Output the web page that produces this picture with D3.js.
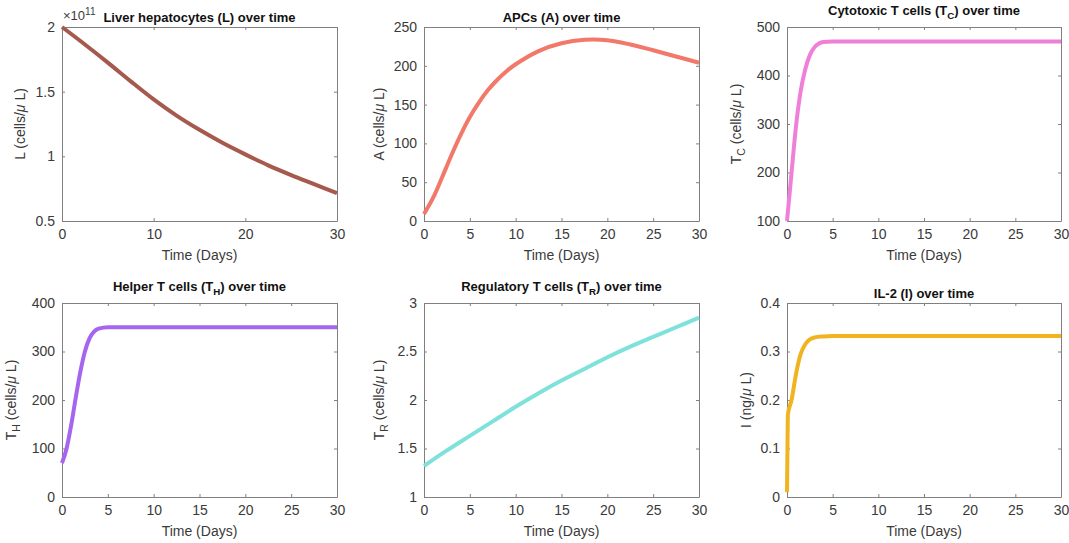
<!DOCTYPE html>
<html>
<head>
<meta charset="utf-8">
<script src="https://cdn.jsdelivr.net/npm/d3@7"></script>
<style>
body { margin: 0; background: #fff; }
text { font-family: "Liberation Sans", Arial, Helvetica, sans-serif; }
</style>
</head>
<body>
<svg id="vis" width="1069" height="543"></svg>
<script>
// values (time in days)
var liverDays = [0, 2.5, 5, 7.5, 10, 12.5, 15, 17.5, 20, 22.5, 25, 27.5, 30];
var liverL = [2.0, 1.865, 1.725, 1.58, 1.44, 1.315, 1.205, 1.105, 1.015, 0.93, 0.855, 0.785, 0.715]; // x1e11

var apcDays = [0, 1, 2, 3, 4, 5, 6, 7, 8, 9, 10, 12.5, 15, 17.5, 20, 22.5, 25, 27.5, 30];
var apcA = [9, 30, 57, 85, 111, 134, 153, 169, 182, 193, 202, 219, 229, 233.5, 233, 227.5, 220, 212, 204];

var tcDays = [0, 0.5, 1, 1.5, 2, 2.5, 3, 3.5, 4, 5, 30];
var tcValues = [100, 200, 298, 368, 413, 442, 458, 466, 469, 470, 470];

var thDays = [0, 0.5, 1, 1.5, 2, 2.5, 3, 3.5, 4, 5, 30];
var thValues = [70, 100, 148, 205, 258, 300, 327, 341, 347, 350, 350];

var trDays = [0, 2.5, 5, 7.5, 10, 12.5, 15, 17.5, 20, 22.5, 25, 27.5, 30];
var trValues = [1.32, 1.48, 1.63, 1.78, 1.93, 2.07, 2.20, 2.32, 2.44, 2.55, 2.65, 2.75, 2.85];

var il2Days = [0, 0.05, 0.1, 0.5, 1, 1.5, 2, 2.5, 3, 4, 5, 30];
var il2Values = [0.01, 0.10, 0.17, 0.20, 0.255, 0.295, 0.315, 0.325, 0.329, 0.331, 0.332, 0.332];

var xTicksWide = [0, 10, 20, 30];
var xTicksFine = [0, 5, 10, 15, 20, 25, 30];
var liverTicks = [0.5, 1, 1.5, 2];
var apcTicks = [0, 50, 100, 150, 200, 250];
var tcTicks = [100, 200, 300, 400, 500];
var thTicks = [0, 100, 200, 300, 400];
var trTicks = [1, 1.5, 2, 2.5, 3];
var il2Ticks = [0, 0.1, 0.2, 0.3, 0.4];

// parts: [text, kind] where kind is "n" normal, "sub" subscript, "mu" greek mu
var panels = [
  {x: 62, y: 27, w: 275, h: 194, days: liverDays, vals: liverL, yDom: [0.5, 2], yTicks: liverTicks, xTicks: xTicksWide,
   color: "#a65a4e", labelOff: 37, exponent: true, curve: d3.curveCatmullRom,
   title: [["Liver hepatocytes (L) over time", "n"]],
   ylab: [["L (cells/", "n"], ["\u03bc", "mu"], [" L)", "n"]]},
  {x: 424, y: 27, w: 275, h: 194, days: apcDays, vals: apcA, yDom: [0, 250], yTicks: apcTicks, xTicks: xTicksFine,
   color: "#f2786a", labelOff: 40, curve: d3.curveCatmullRom,
   title: [["APCs (A) over time", "n"]],
   ylab: [["A (cells/", "n"], ["\u03bc", "mu"], [" L)", "n"]]},
  {x: 787, y: 27, w: 274, h: 194, days: tcDays, vals: tcValues, yDom: [100, 500], yTicks: tcTicks, xTicks: xTicksFine,
   color: "#f07fd8", labelOff: 46, curve: d3.curveMonotoneX,
   title: [["Cytotoxic T cells (T", "n"], ["C", "sub"], [") over time", "n"]],
   ylab: [["T", "n"], ["C", "sub"], [" (cells/", "n"], ["\u03bc", "mu"], [" L)", "n"]]},
  {x: 62, y: 303, w: 275, h: 194, days: thDays, vals: thValues, yDom: [0, 400], yTicks: thTicks, xTicks: xTicksFine,
   color: "#a565ee", labelOff: 46, curve: d3.curveMonotoneX,
   title: [["Helper T cells (T", "n"], ["H", "sub"], [") over time", "n"]],
   ylab: [["T", "n"], ["H", "sub"], [" (cells/", "n"], ["\u03bc", "mu"], [" L)", "n"]]},
  {x: 424, y: 303, w: 275, h: 194, days: trDays, vals: trValues, yDom: [1, 3], yTicks: trTicks, xTicks: xTicksFine,
   color: "#7fe2da", labelOff: 40, curve: d3.curveCatmullRom,
   title: [["Regulatory T cells (T", "n"], ["R", "sub"], [") over time", "n"]],
   ylab: [["T", "n"], ["R", "sub"], [" (cells/", "n"], ["\u03bc", "mu"], [" L)", "n"]]},
  {x: 787, y: 303, w: 274, h: 194, days: il2Days, vals: il2Values, yDom: [0, 0.4], yTicks: il2Ticks, xTicks: xTicksFine,
   color: "#f1b420", labelOff: 36, curve: d3.curveMonotoneX,
   title: [["IL-2 (I) over time", "n"]],
   ylab: [["I (ng/", "n"], ["\u03bc", "mu"], [" L)", "n"]]}
];

var svg = d3.select("#vis");
var axisColor = "#808080";
var textColor = "#3a3a3a";

function richText(sel, parts) {
  var shift = 0;
  parts.forEach(function(p) {
    var t = sel.append("tspan").text(p[0]);
    var target = p[1] === "sub" ? 4 : 0;
    if (target !== shift) { t.attr("dy", target - shift); shift = target; }
    if (p[1] === "sub") t.attr("font-size", "0.75em");
    if (p[1] === "mu") t.attr("font-style", "italic");
  });
}

panels.forEach(function(p) {
  var g = svg.append("g").attr("transform", "translate(" + p.x + "," + p.y + ")");
  var x = d3.scaleLinear().domain([0, 30]).range([0, p.w]);
  var y = d3.scaleLinear().domain(p.yDom).range([p.h, 0]);
  var hasSub = p.title.some(function(d) { return d[1] === "sub"; });

  var fmt = function(d) { return d3.format("~g")(d); };
  var bottom = g.append("g").attr("transform", "translate(0," + p.h + ")")
    .call(d3.axisBottom(x).tickValues(p.xTicks).tickFormat(fmt).tickSizeInner(-3).tickSizeOuter(0).tickPadding(8));
  var left = g.append("g")
    .call(d3.axisLeft(y).tickValues(p.yTicks).tickFormat(fmt).tickSizeInner(-3).tickSizeOuter(0).tickPadding(7));
  var top = g.append("g")
    .call(d3.axisTop(x).tickValues(p.xTicks).tickFormat("").tickSizeInner(-3).tickSizeOuter(0));
  var right = g.append("g").attr("transform", "translate(" + p.w + ",0)")
    .call(d3.axisRight(y).tickValues(p.yTicks).tickFormat("").tickSizeInner(-3).tickSizeOuter(0));
  [bottom, left, top, right].forEach(function(a) {
    a.select(".domain").attr("stroke", axisColor);
    a.selectAll(".tick line").attr("stroke", axisColor);
    a.selectAll(".tick text").attr("fill", textColor).attr("font-size", 14)
      .attr("font-family", "Liberation Sans, Arial, sans-serif");
  });

  var line = d3.line()
    .x(function(d, i) { return x(p.days[i]); })
    .y(function(d) { return y(d); })
    .curve(p.curve);
  g.append("path").datum(p.vals)
    .attr("d", line)
    .attr("fill", "none")
    .attr("stroke", p.color)
    .attr("stroke-width", 4);

  var title = g.append("text")
    .attr("x", p.w / 2).attr("y", hasSub ? -12 : -5)
    .attr("text-anchor", "middle")
    .attr("font-weight", "bold").attr("font-size", 13).attr("fill", "#111");
  richText(title, p.title);

  g.append("text")
    .attr("x", p.w / 2).attr("y", p.h + 39)
    .attr("text-anchor", "middle").attr("font-size", 14).attr("fill", textColor)
    .text("Time (Days)");

  var ylab = g.append("text")
    .attr("transform", "translate(" + (-p.labelOff) + "," + (p.h / 2) + ") rotate(-90)")
    .attr("text-anchor", "middle").attr("font-size", 14).attr("fill", textColor);
  richText(ylab, p.ylab);

  if (p.exponent) {
    var ex = g.append("text").attr("x", 1).attr("y", -7)
      .attr("font-size", 13).attr("fill", textColor);
    ex.append("tspan").text("\u00d710");
    ex.append("tspan").attr("dy", -5).attr("font-size", 10).text("11");
  }
});
</script>
</body>
</html>
